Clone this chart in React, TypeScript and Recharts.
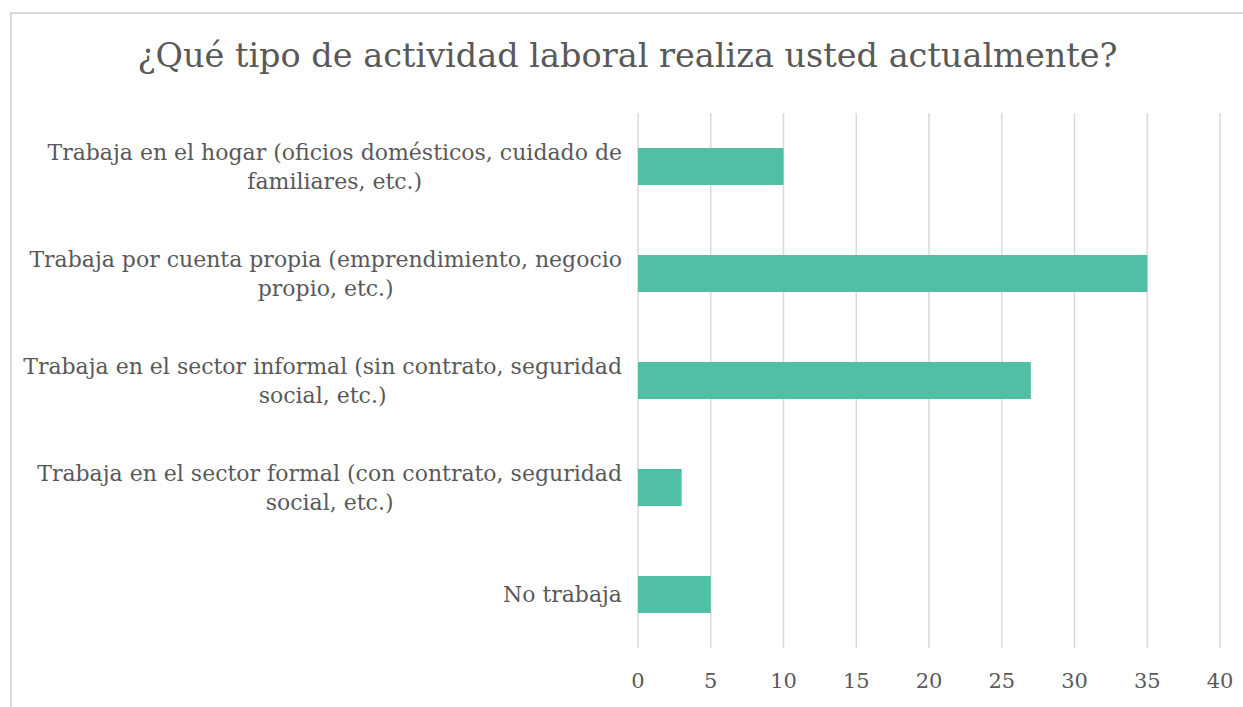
import { Bar, BarChart, CartesianGrid, XAxis, YAxis } from 'recharts';

const categories = [
  ['Trabaja en el hogar (oficios domésticos, cuidado de', 'familiares, etc.)'],
  ['Trabaja por cuenta propia (emprendimiento, negocio', 'propio, etc.)'],
  ['Trabaja en el sector informal (sin contrato, seguridad', 'social, etc.)'],
  ['Trabaja en el sector formal (con contrato, seguridad', 'social, etc.)'],
  ['No trabaja'],
];
const values = [10, 35, 27, 3, 5];
const xTicks = [0, 5, 10, 15, 20, 25, 30, 35, 40];

const data = categories.map((lines, i) => ({ name: lines.join('\n'), value: values[i] }));

const FONT = '"DejaVu Serif", serif';
const TEXT = '#595959';
const LABEL_SIZE = 22;

let ctx: CanvasRenderingContext2D | null = null;
function measure(s: string) {
  if (!ctx) ctx = document.createElement('canvas').getContext('2d');
  if (!ctx) return s.length * LABEL_SIZE * 0.55;
  ctx.font = `${LABEL_SIZE}px "DejaVu Serif"`;
  return ctx.measureText(s).width;
}

function CategoryTick({ x, y, payload }: any) {
  const lines: string[] = String(payload.value).split('\n');
  const w = Math.max(...lines.map(measure));
  const cx = x - w / 2;
  const step = 29;
  return (
    <g>
      {lines.map((l, i) => (
        <text
          key={i}
          x={cx}
          y={y + (i - (lines.length - 1) / 2) * step + LABEL_SIZE * 0.36}
          textAnchor="middle"
          fill={TEXT}
          fontSize={LABEL_SIZE}
          fontFamily={FONT}
        >
          {l}
        </text>
      ))}
    </g>
  );
}

export default function App() {
  return (
    <div
      style={{
        position: 'absolute',
        left: 10,
        top: 12,
        width: 1233,
        height: 695,
        borderTop: '2px solid #d9d9d9',
        borderLeft: '2px solid #d9d9d9',
        boxSizing: 'border-box',
        overflow: 'hidden',
        background: '#fff',
      }}
    >
      <div
        style={{
          position: 'absolute',
          left: 0,
          top: 22,
          width: 1231,
          textAlign: 'center',
          fontFamily: FONT,
          fontSize: 33.5,
          color: TEXT,
          whiteSpace: 'nowrap',
        }}
      >
        ¿Qué tipo de actividad laboral realiza usted actualmente?
      </div>
      <div style={{ position: 'absolute', left: 0, top: 0 }}>
        <BarChart
          width={1231}
          height={693}
          data={data}
          layout="vertical"
          margin={{ top: 99, right: 23, bottom: 0, left: 0 }}
          barSize={37}
        >
          <CartesianGrid horizontal={false} stroke="#d9d9d9" strokeWidth={1.5} />
          <XAxis
            type="number"
            domain={[0, 40]}
            ticks={xTicks}
            axisLine={false}
            tickLine={false}
            height={59}
            tickMargin={19}
            interval={0}
            tick={{ fill: TEXT, fontSize: 21, fontFamily: FONT }}
          />
          <YAxis
            type="category"
            dataKey="name"
            width={626}
            axisLine={false}
            tickLine={false}
            tickMargin={10}
            interval={0}
            tick={<CategoryTick />}
          />
          <Bar dataKey="value" fill="#50bfa5" isAnimationActive={false} />
        </BarChart>
      </div>
    </div>
  );
}
